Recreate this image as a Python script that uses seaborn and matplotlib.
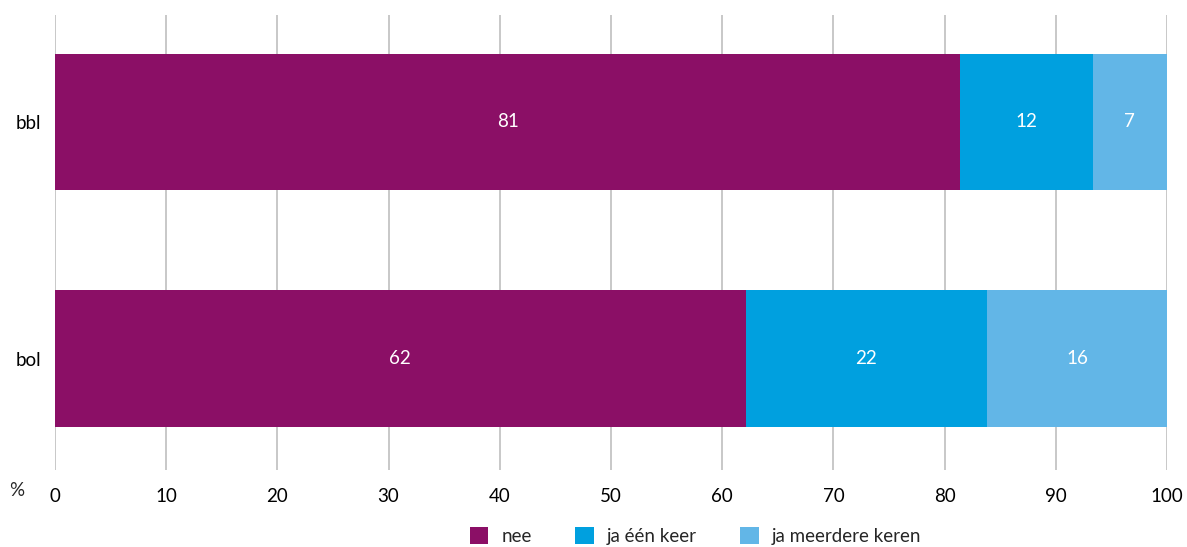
import numpy as np
import pandas as pd
import matplotlib
matplotlib.use("Agg")
import matplotlib.pyplot as plt
import seaborn as sns
from matplotlib.patches import Patch

groepen = ["bbl", "bol"]
nee = [81.4, 62.1]
een_keer = [11.9, 21.7]
meerdere = [6.7, 16.2]
labels_nee = ["81", "62"]
labels_een = ["12", "22"]
labels_meer = ["7", "16"]
reeksen = ["nee", "ja één keer", "ja meerdere keren"]
kleuren = ["#8B0F66", "#00A0DF", "#62B6E7"]

sns.set_style("white")
plt.rcParams["font.family"] = ["Lato", "DejaVu Sans"]

df = pd.DataFrame({"groep": groepen, "nee": nee, "een": een_keer, "meer": meerdere})
df["c1"] = df["nee"]
df["c2"] = df["nee"] + df["een"]
df["c3"] = df["c2"] + df["meer"]

fig = plt.figure(figsize=(11.87, 5.47), dpi=100)
ax = fig.add_axes([0.0463, 0.141, 0.9369, 0.8314])

# gestapeld: eerst totaal, dan kleinere cumulatieven eroverheen
for col, kleur in zip(["c3", "c2", "c1"], kleuren[::-1]):
    sns.barplot(data=df, y="groep", x=col, color=kleur, orient="h",
                width=0.575, saturation=1, linewidth=0, ax=ax, zorder=3)

fs = 13.5
for i in range(len(groepen)):
    ax.text(nee[i] / 2, i, labels_nee[i], color="white", ha="center", va="center", fontsize=fs, zorder=5)
    ax.text(nee[i] + een_keer[i] / 2, i, labels_een[i], color="white", ha="center", va="center", fontsize=fs, zorder=5)
    ax.text(nee[i] + een_keer[i] + meerdere[i] / 2, i, labels_meer[i], color="white", ha="center", va="center", fontsize=fs, zorder=5)

ax.set_xlim(0, 100)
ax.set_ylim(1.47, -0.45)
ax.set_xticks(np.arange(0, 101, 10))
ax.xaxis.grid(True, color="#BFBFBF", linewidth=1.2, zorder=0)
ax.set_axisbelow(True)
for s in ax.spines.values():
    s.set_visible(False)
ax.tick_params(axis="both", length=0, labelsize=fs, colors="black")
ax.tick_params(axis="x", pad=13)
ax.tick_params(axis="y", pad=10)
ax.set_xlabel("")
ax.set_ylabel("")
fig.text(17 / 1187, 1 - 491 / 547, "%", ha="center", va="center", fontsize=fs)

handles = [Patch(facecolor=k, edgecolor="none") for k in kleuren]
fig.legend(handles, reeksen, loc="center", bbox_to_anchor=(0.586, 1 - 536 / 547), ncol=3,
           frameon=False, fontsize=fs, handlelength=1.0, handleheight=1.0,
           handletextpad=0.7, columnspacing=2.3)

fig.savefig("out.png", dpi=100)
